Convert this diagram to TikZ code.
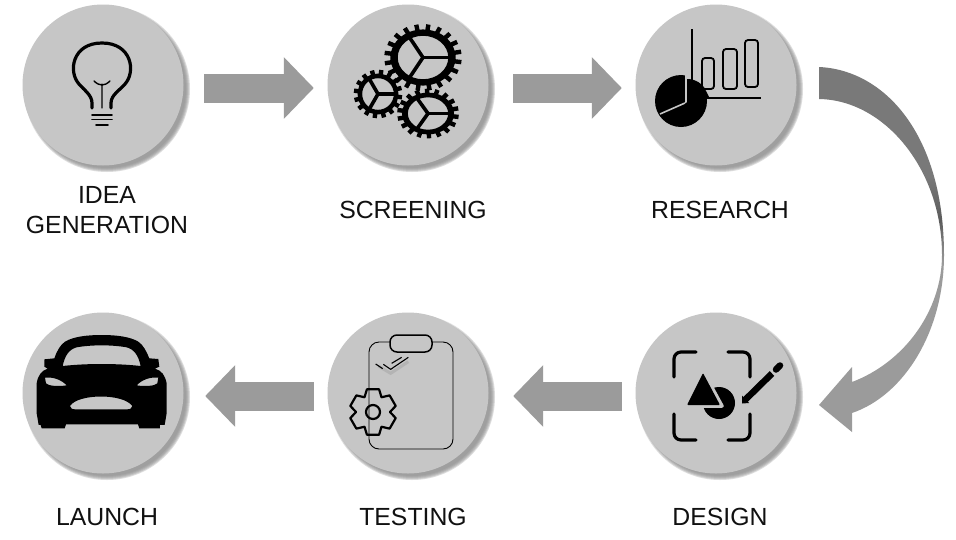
\documentclass[tikz,border=0pt]{standalone}
\usepackage{fontspec}
\setmainfont{Liberation Sans}
\usetikzlibrary{arrows.meta,shadings}
\definecolor{disc}{HTML}{C6C6C6}
\definecolor{shad}{HTML}{8E8E8E}
\definecolor{arrowgray}{HTML}{9B9B9B}
\definecolor{ink}{HTML}{111111}
\pgfdeclareverticalshading{bend}{100bp}{color(0bp)=(arrowgray); color(48bp)=(arrowgray); color(54bp)=(black!50!arrowgray!92); color(60bp)=(black!50!white!95!black); color(100bp)=(black!50!white!95!black)}
\tikzset{
  stage/.style={circle,fill=disc,minimum size=161pt,inner sep=0pt},
  blockarrow/.style={draw=arrowgray,line width=29pt,-{Triangle[length=30pt,width=60pt]}},
  label/.style={text=ink,font=\fontsize{24.8}{30}\selectfont,align=center,inner sep=0pt},
  icon/.style={line cap=round,line join=round,draw=black},
}
\newcommand{\softshadow}[2]{%
  \foreach \r in {83,82,81,80,79}{\fill[shad,opacity=.3] (#1+4,#2+4) circle (\r);}}
\newcommand{\gearicon}[5]{%
  \begin{scope}[shift={(#1,#2)},xscale=#3,yscale=#4]
    \fill[black,even odd rule] (0,0) circle (1.02) (0,0) circle (.79);
    \foreach \k in {1,...,#5}{\draw[line width=4.4pt] ({360*\k/#5+8}:.85) -- ({360*\k/#5+8}:1.21);}
    \foreach \a in {0,120,240}{\draw[line width=3.6pt] (0,0) -- (\a:.85);}
  \end{scope}}
\begin{document}
\begin{tikzpicture}[x=1pt,y=-1pt]
\useasboundingbox (0,0) rectangle (956,539);
\fill[white] (0,0) rectangle (956,539);
% shadows
\softshadow{103}{85}\softshadow{408}{85}\softshadow{716}{85}
\softshadow{103}{393}\softshadow{408}{393}\softshadow{716}{393}
% stages
\node[stage] (idea) at (103,85) {};
\node[stage] (screen) at (408,85) {};
\node[stage] (research) at (716,85) {};
\node[stage] (launch) at (103,393) {};
\node[stage] (testing) at (408,393) {};
\node[stage] (design) at (716,393) {};
% labels
\node[label] (lidea) at (107,195) {IDEA};
\node[label] (lgen) at (107,225) {GENERATION};
\node[label] (lscreen) at (413,210) {SCREENING};
\node[label] (lresearch) at (720,210) {RESEARCH};
\node[label] (llaunch) at (107,517) {LAUNCH};
\node[label] (ltesting) at (413,517) {TESTING};
\node[label] (ldesign) at (720,517) {DESIGN};
% straight arrows
\draw[blockarrow] ([xshift=20.5pt,yshift=-3pt]idea.east) -- ([xshift=-13.5pt,yshift=-3pt]screen.west);
\draw[blockarrow] ([xshift=24.5pt,yshift=-3pt]screen.east) -- ([xshift=-13.5pt,yshift=-3pt]research.west);
\draw[blockarrow] ([xshift=-13.5pt,yshift=-3pt]design.west) -- ([xshift=24.5pt,yshift=-3pt]testing.east);
\draw[blockarrow] ([xshift=-13.5pt,yshift=-3pt]testing.west) -- ([xshift=21.5pt,yshift=-3pt]launch.east);
% curved arrow
\shade[shading=bend] (819,67) .. controls (885,70) and (944,135) .. (944,255)
  .. controls (944,330) and (905,395) .. (852,413) -- (852,432) -- (819,405) -- (852,367) -- (852,382)
  .. controls (905,362) and (942,310) .. (942,255) .. controls (942,170) and (885,100) .. (819,99) -- cycle;
% bulb
\draw[icon,line width=3.2pt] (92,108) -- (92,103) .. controls (92,95) and (84,90) .. (79,84)
  .. controls (68,72) and (72,43) .. (102,43) .. controls (132,43) and (136,72) .. (125,84)
  .. controls (120,90) and (111,95) .. (111,103) -- (111,108);
\draw[icon,line width=1.4pt] (102,84) -- (102,108) (94,81) .. controls (97,84) and (100,85) .. (102,85) .. controls (104,85) and (107,84) .. (110,81);
\draw[icon,line width=1.9pt] (92,115) -- (112,115) (92,119.5) -- (112,119.5) (96,125) -- (108,125);
% gears
\gearicon{428}{113.5}{25.5}{20.5}{18}
\gearicon{378}{94}{20}{20}{16}
\gearicon{423}{57.5}{32}{27.5}{20}
% research
\fill[black] (681,101) circle (26);
\fill[disc] (685,103) -- (685,70) -- (712,70) -- (712,95) -- cycle;
\fill[black] (687,104) -- (687,79) .. controls (696,79) and (703,84) .. (706,91) -- (709,97) -- cycle;
\draw[disc,line width=1.6pt] (685,103) -- (660,114);
\draw[icon,line width=1.6pt,line cap=butt] (692,29) -- (692,80) (706,98) -- (761,98);
\foreach \x/\y/\X/\Y in {702/58/714/89,723/49/737/89,745/40/758/87}{
  \draw[line width=1.8pt,rounded corners=3pt] (\x,\y) rectangle (\X,\Y);}
% design
\draw[icon,line width=3.2pt,rounded corners=7pt]
  (674,377) -- (674,352) -- (696,352)
  (728,352) -- (750,352) -- (750,377)
  (674,414) -- (674,440) -- (696,440)
  (728,440) -- (750,440) -- (750,414);
\fill[black] (719,403) circle (16);
\draw[disc,line width=3.5pt,line join=round,fill=black] (703,371) -- (722,406) -- (685,406) -- cycle;
\fill[black,rounded corners=1pt] (703,373) -- (720,405) -- (687,405) -- cycle;
\draw[line width=6.5pt,line cap=butt] (745,400) -- (772,373.5);
\fill[black] (742,395.5) -- (749,403) -- (742,403.5) -- cycle;
\draw[line width=6.5pt,line cap=round] (776,369.5) -- (780,365.5);
% testing
\draw[line width=.9pt,rounded corners=10pt] (369,342) rectangle (453,449);
\draw[line width=1.5pt,fill=disc,rounded corners=7pt] (390,335) rectangle (432,352);
\begin{scope}[shift={(320,310)},x=.3333pt,y=-.3333pt]
  \draw[gray,opacity=.25,line width=3pt] (175,168) -- (212,190) -- (265,155);
  \draw[line width=1.1pt] (167,162) -- (188,176) (190,163) -- (212,178) -- (265,142) (215,160) -- (245,142);
\end{scope}
\begin{scope}[shift={(373,412)}]
  \draw[line width=2.2pt,line join=round] (60:17)
    \foreach \a in {90,150,210,270,330,30}{ -- (\a-15:23.5) -- (\a+15:23.5) -- (\a+30:17) } -- cycle;
  \draw[line width=2.2pt] (0,0) circle (7);
\end{scope}
% car
\begin{scope}[shift={(10,310)},x=.3333pt,y=-.3333pt]
  \fill[black,even odd rule]
    (418,145) -- (445,147) -- (448,170) -- (435,176) .. controls (455,182) and (465,195) .. (470,220)
    -- (470,310) -- (464,345) -- (450,345) -- (450,355) -- (388,355) -- (384,343) -- (168,343) -- (164,355) -- (95,355) -- (92,345)
    -- (86,345) -- (80,310) -- (80,220) .. controls (84,195) and (95,182) .. (113,176) -- (103,170) -- (103,148) -- (133,145)
    .. controls (140,125) and (150,105) .. (165,95) .. controls (190,80) and (230,75) .. (275,75)
    .. controls (320,75) and (360,80) .. (385,95) .. controls (400,105) and (410,125) .. (418,145) -- cycle
    (158,168) .. controls (165,135) and (178,118) .. (200,112) .. controls (245,104) and (305,104) .. (350,112)
    .. controls (372,118) and (385,135) .. (392,168) .. controls (320,160) and (230,160) .. (158,168) -- cycle
    (105,203) .. controls (130,200) and (155,210) .. (170,226) .. controls (145,230) and (115,228) .. (108,220) -- cycle
    (445,203) .. controls (420,200) and (395,210) .. (380,226) .. controls (405,230) and (435,228) .. (442,220) -- cycle
    (180,288) .. controls (205,250) and (340,250) .. (367,288) .. controls (366,296) and (360,298) .. (350,298)
    -- (197,298) .. controls (187,298) and (181,296) .. (180,288) -- cycle;
\end{scope}
\end{tikzpicture}
\end{document}
